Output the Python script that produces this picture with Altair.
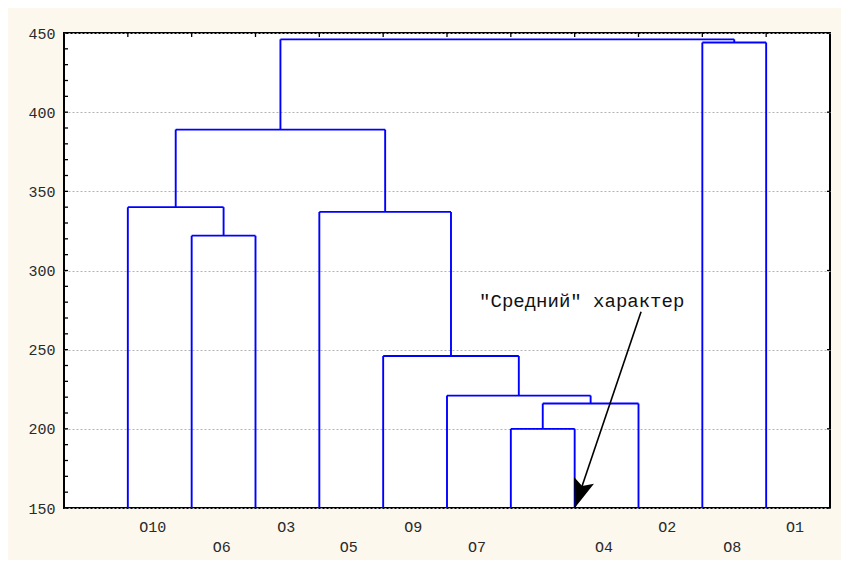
import math
import altair as alt
import pandas as pd

# ---------------- data ----------------
BASE = 150  # bottom of the dendrogram (axis minimum)
leaf_ids = ["L1", "L2", "L3", "L4", "L5", "L6", "L7", "L8", "L9", "L10", "L11"]
leaf_pos = [1, 2, 3, 4, 5, 6, 7, 8, 9, 10, 11]

merge_ids = ["M0", "M1", "M2", "M3", "M4", "M5", "M6", "M7", "M8", "M9"]
merge_left = ["L2", "L1", "L7", "M2", "L6", "L5", "L4", "M1", "L10", "M7"]
merge_right = ["L3", "M0", "L8", "L9", "M3", "M4", "M5", "M6", "L11", "M8"]
merge_height = [322, 340, 200, 216, 221, 246, 337, 389, 444, 446]

label_names = ["O10", "O6", "O3", "O5", "O9", "O7", "O4", "O2", "O8", "O1"]
label_pos = [1.39, 2.47, 3.48, 4.46, 5.47, 6.47, 8.46, 9.45, 10.47, 11.45]
label_row = [1, 2, 1, 2, 1, 2, 2, 1, 2, 1]

y_major = [150, 200, 250, 300, 350, 400, 450]
y_minor = list(range(150, 451, 10))

note_text = '"Средний" характер'
note_x, note_y = 8.11, 281
arrow_x, arrow_y = 9.04, 274
arrow_x2, arrow_y2 = 8, 150

X_DOMAIN = [0, 12]
Y_DOMAIN = [150, 450]

# ---------------- build segments ----------------
pos = dict(zip(leaf_ids, leaf_pos))
hgt = {k: BASE for k in leaf_ids}
segs = []
for mid, l, r, h in zip(merge_ids, merge_left, merge_right, merge_height):
    xl, xr = pos[l], pos[r]
    segs.append({"x": xl, "y": hgt[l], "x2": xl, "y2": h})
    segs.append({"x": xl, "y": h, "x2": xr, "y2": h})
    segs.append({"x": xr, "y": hgt[r], "x2": xr, "y2": h})
    pos[mid] = (xl + xr) / 2
    hgt[mid] = h
seg_df = pd.DataFrame(segs)

lab_df = pd.DataFrame({"name": label_names, "x": label_pos, "row": label_row})

# ---------------- layout ----------------
W, H = 766, 475
FONT = "Liberation Mono"
BLUE = "#0000ff"
TXT = "#2a2a2a"

xs = alt.Scale(domain=X_DOMAIN, nice=False, zero=False)
ys = alt.Scale(domain=Y_DOMAIN, nice=False, zero=False)
yaxis = alt.Axis(
    values=y_major, title=None, grid=True, gridColor="#b4b4b4", gridDash=[2, 2],
    gridWidth=1, ticks=False, domain=False, labelFont=FONT, labelFontSize=15,
    labelColor=TXT, labelPadding=9,
)


def X(f):
    return alt.X(f, type="quantitative", scale=xs, axis=None)


def Y(f):
    return alt.Y(f, type="quantitative", scale=ys, axis=yaxis)


tree = alt.Chart(seg_df).mark_rule(color=BLUE, strokeWidth=1.9).encode(
    x=X("x"), y=Y("y"), x2="x2", y2="y2"
)

minor_df = pd.DataFrame({"v": y_minor})
left_ticks = alt.Chart(minor_df).mark_rule(color="black", strokeWidth=1.3).encode(
    y=Y("v"), x=alt.value(0), x2=alt.value(4)
)
major_df = pd.DataFrame({"v": y_major})
right_ticks = alt.Chart(major_df).mark_rule(color="black", strokeWidth=1.3).encode(
    y=Y("v"), x=alt.value(W), x2=alt.value(W - 3)
)
top_df = pd.DataFrame({"v": leaf_pos})
top_ticks = alt.Chart(top_df).mark_rule(color="black", strokeWidth=1.3).encode(
    x=X("v"), y=alt.value(0), y2=alt.value(4)
)

row1 = alt.Chart(lab_df).transform_filter("datum.row == 1").mark_text(
    font=FONT, fontSize=15, color=TXT, baseline="middle", align="center", dy=19
).encode(x=X("x"), y=alt.datum(BASE), text="name:N")
row2 = alt.Chart(lab_df).transform_filter("datum.row == 2").mark_text(
    font=FONT, fontSize=15, color=TXT, baseline="middle", align="center", dy=39
).encode(x=X("x"), y=alt.datum(BASE), text="name:N")

note_df = pd.DataFrame({"x": [note_x], "y": [note_y], "t": [note_text]})
note = alt.Chart(note_df).mark_text(
    font=FONT, fontSize=19, color="#111111", baseline="middle", align="center"
).encode(x=X("x"), y=Y("y"), text="t:N")

arrow_df = pd.DataFrame({"x": [arrow_x], "y": [arrow_y], "x2": [arrow_x2], "y2": [arrow_y2]})
arrow_line = alt.Chart(arrow_df).mark_rule(color="black", strokeWidth=1.6).encode(
    x=X("x"), y=Y("y"), x2="x2", y2="y2"
)
# heading of the arrow in screen space (clockwise from "up")
px_x = W / (X_DOMAIN[1] - X_DOMAIN[0])
px_y = H / (Y_DOMAIN[1] - Y_DOMAIN[0])
dxp = (arrow_x2 - arrow_x) * px_x
dyp = -(arrow_y2 - arrow_y) * px_y
ang = (math.degrees(math.atan2(dxp, -dyp)) + 360) % 360
head_df = pd.DataFrame({"x": [arrow_x2], "y": [arrow_y2]})
arrow_head = alt.Chart(head_df).mark_point(
    shape="M0,0 L-0.36,1 L0,0.8 L0.36,1 Z", filled=True, color="black", opacity=1,
    size=3400, angle=round(ang, 1), strokeWidth=0,
).encode(x=X("x"), y=Y("y"))

chart = (
    alt.layer(tree, left_ticks, right_ticks, top_ticks, row1, row2, note, arrow_line, arrow_head)
    .properties(
        width=W, height=H, background="#fcf8ee",
        autosize=alt.AutoSizeParams(type="none"),
        padding={"left": 56, "top": 25, "right": 11, "bottom": 52},
    )
    .configure_view(stroke="black", strokeWidth=2, fill="white")
)

chart.save("out.html", embed_options={"renderer": "svg", "actions": False})
